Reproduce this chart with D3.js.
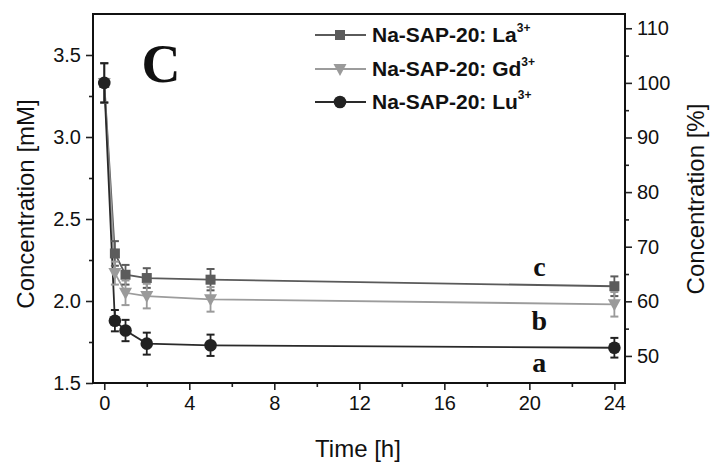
<!DOCTYPE html>
<html>
<head>
<meta charset="utf-8">
<script src="https://cdn.jsdelivr.net/npm/d3@7"></script>
<style>
  html, body { margin: 0; padding: 0; background: #fff; }
</style>
</head>
<body>
<svg id="chart" width="712" height="464"></svg>
<script>
// ---------- data ----------
const times = [0, 0.5, 1, 2, 5, 24];
const seriesNames = ["Na-SAP-20: La", "Na-SAP-20: Gd", "Na-SAP-20: Lu"];
const laValues = [3.33, 2.29, 2.16, 2.14, 2.13, 2.09];
const laErrors = [0.12, 0.075, 0.06, 0.06, 0.065, 0.06];
const gdValues = [3.33, 2.17, 2.05, 2.03, 2.01, 1.98];
const gdErrors = [0.12, 0.07, 0.075, 0.075, 0.075, 0.075];
const luValues = [3.33, 1.88, 1.82, 1.74, 1.73, 1.715];
const luErrors = [0.12, 0.065, 0.065, 0.067, 0.065, 0.06];
const initialConcentration = 3.33;
const xTicks = [0, 4, 8, 12, 16, 20, 24];
const xMinorTicks = [2, 6, 10, 14, 18, 22];
const yTicks = [1.5, 2.0, 2.5, 3.0, 3.5];
const yMinorTicks = [1.75, 2.25, 2.75, 3.25];
const pctTicks = [50, 60, 70, 80, 90, 100, 110];
const pctMinorTicks = [55, 65, 75, 85, 95, 105];
const groupLabels = ["a", "b", "c"];
const groupLabelTime = 20.47;
const groupLabelLevels = [1.567, 1.822, 2.15];

// ---------- layout ----------
const L = 93, R = 625, T = 14, B = 383;
const SANS = "Arial, 'Liberation Sans', sans-serif";
const SERIF = "'Liberation Serif', 'Times New Roman', serif";
const svg = d3.select("#chart").style("font-family", SANS);

const x = d3.scaleLinear().domain([-0.53, 24.5]).range([L, R]);
const y = d3.scaleLinear().domain([1.5, 3.75]).range([B, T]);
const yPct = d3.scaleLinear()
  .domain([1.5 / initialConcentration * 100, 3.75 / initialConcentration * 100])
  .range([B, T]);

const series = [
  { name: seriesNames[0], values: laValues, errors: laErrors, color: "#5c5c5c", line: "#5a5a5a", symbol: "square" },
  { name: seriesNames[1], values: gdValues, errors: gdErrors, color: "#9a9a9a", line: "#9c9c9c", symbol: "triangle" },
  { name: seriesNames[2], values: luValues, errors: luErrors, color: "#222222", line: "#2a2a2a", symbol: "circle" }
];

function drawSymbol(g, type, cx, cy, fill) {
  if (type === "square") {
    g.append("rect").attr("x", cx - 5).attr("y", cy - 5).attr("width", 10).attr("height", 10).attr("fill", fill);
  } else if (type === "triangle") {
    g.append("path").attr("d", `M${cx - 6.5},${cy - 5} L${cx + 6.5},${cy - 5} L${cx},${cy + 7} Z`).attr("fill", fill);
  } else {
    g.append("circle").attr("cx", cx).attr("cy", cy).attr("r", 6.3).attr("fill", fill);
  }
}

// ---------- axes ----------
function styleAxis(g) {
  g.select(".domain").remove();
  g.selectAll("line").attr("stroke", "#222").attr("stroke-width", 1.6);
  g.selectAll("text").attr("font-size", 20).attr("fill", "#111").style("font-family", SANS);
}

const xAxis = svg.append("g").attr("transform", `translate(0,${B})`)
  .call(d3.axisBottom(x).tickValues(xTicks).tickSize(7).tickPadding(6).tickFormat(d3.format("d")));
styleAxis(xAxis);
const xAxisMinor = svg.append("g").attr("transform", `translate(0,${B})`)
  .call(d3.axisBottom(x).tickValues(xMinorTicks).tickSize(4).tickFormat(""));
styleAxis(xAxisMinor);

const yAxis = svg.append("g").attr("transform", `translate(${L},0)`)
  .call(d3.axisLeft(y).tickValues(yTicks).tickSize(7).tickPadding(5).tickFormat(d3.format(".1f")));
styleAxis(yAxis);
const yAxisMinor = svg.append("g").attr("transform", `translate(${L},0)`)
  .call(d3.axisLeft(y).tickValues(yMinorTicks).tickSize(4).tickFormat(""));
styleAxis(yAxisMinor);

const yRight = svg.append("g").attr("transform", `translate(${R},0)`)
  .call(d3.axisRight(yPct).tickValues(pctTicks).tickSize(7).tickPadding(5).tickFormat(d3.format("d")));
styleAxis(yRight);
const yRightMinor = svg.append("g").attr("transform", `translate(${R},0)`)
  .call(d3.axisRight(yPct).tickValues(pctMinorTicks).tickSize(4).tickFormat(""));
styleAxis(yRightMinor);

// frame
svg.append("rect").attr("x", L).attr("y", T).attr("width", R - L).attr("height", B - T)
  .attr("fill", "none").attr("stroke", "#111").attr("stroke-width", 2);

// axis titles
svg.append("text").attr("transform", `translate(25,204) rotate(-90)`)
  .attr("text-anchor", "middle").attr("dominant-baseline", "central")
  .attr("font-size", 24).attr("fill", "#111").text("Concentration [mM]");
svg.append("text").attr("transform", `translate(695,199) rotate(-90)`)
  .attr("text-anchor", "middle").attr("dominant-baseline", "central")
  .attr("font-size", 24).attr("fill", "#111").text("Concentration [%]");
svg.append("text").attr("x", 358).attr("y", 457)
  .attr("text-anchor", "middle").attr("font-size", 24).attr("fill", "#111").text("Time [h]");

// ---------- data marks ----------
const line = d3.line().x((d, i) => x(times[i])).y(d => y(d));
series.forEach(s => {
  svg.append("path").datum(s.values).attr("d", line)
    .attr("fill", "none").attr("stroke", s.line).attr("stroke-width", 1.8);
});
series.forEach(s => {
  const g = svg.append("g");
  s.values.forEach((v, i) => {
    const cx = x(times[i]);
    const yt = y(v + s.errors[i]), yb = y(v - s.errors[i]);
    g.append("line").attr("x1", cx).attr("x2", cx).attr("y1", yt).attr("y2", yb)
      .attr("stroke", s.color).attr("stroke-width", 1.8);
    [yt, yb].forEach(yy => g.append("line").attr("x1", cx - 4).attr("x2", cx + 4).attr("y1", yy).attr("y2", yy)
      .attr("stroke", s.color).attr("stroke-width", 2));
  });
  s.values.forEach((v, i) => drawSymbol(g, s.symbol, x(times[i]), y(v), s.color));
});

// ---------- legend ----------
const legendY = [35, 69, 102];
series.forEach((s, i) => {
  const g = svg.append("g");
  const ly = legendY[i];
  g.append("line").attr("x1", 315).attr("x2", 366).attr("y1", ly).attr("y2", ly)
    .attr("stroke", s.line).attr("stroke-width", 1.8);
  drawSymbol(g, s.symbol, 340, ly, s.color);
  const t = g.append("text").attr("x", 372).attr("y", ly + 7)
    .attr("font-size", 21).attr("font-weight", "bold").attr("fill", "#111");
  t.append("tspan").text(s.name);
  t.append("tspan").attr("font-size", 12).attr("dy", -10).text("3+");
});

// ---------- annotations ----------
svg.append("text").attr("x", 161).attr("y", 82).attr("text-anchor", "middle")
  .style("font-family", SERIF)
  .attr("font-weight", "bold").attr("font-size", 54).attr("fill", "#111").text("C");

groupLabels.forEach((lab, i) => {
  svg.append("text").attr("x", x(groupLabelTime)).attr("y", y(groupLabelLevels[i]))
    .attr("text-anchor", "middle")
    .style("font-family", SERIF)
    .attr("font-weight", "bold").attr("font-size", 28).attr("fill", "#111").text(lab);
});
</script>
</body>
</html>
